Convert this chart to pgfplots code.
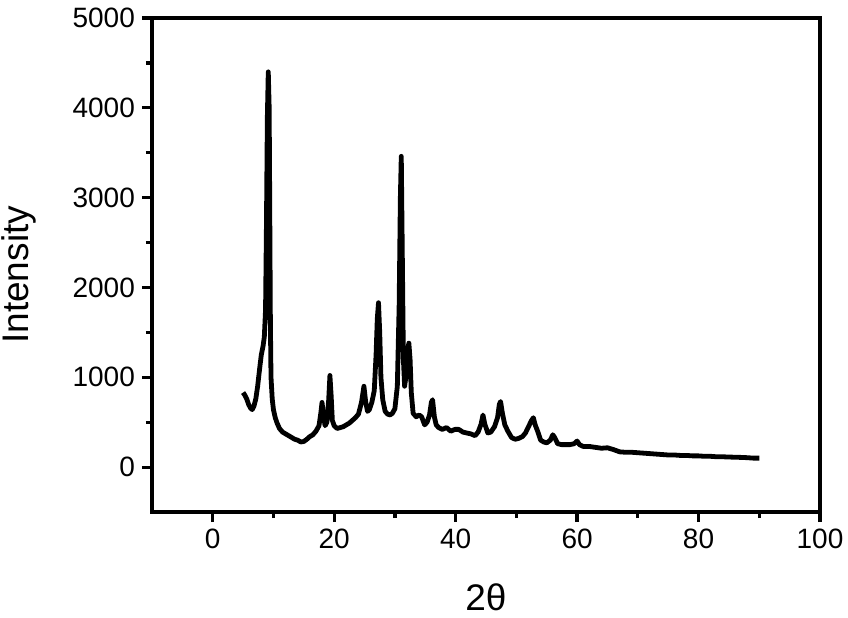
\documentclass[border=0pt]{standalone}
\usepackage{pgfplots}
\pgfplotsset{compat=1.18}
\usepackage{fontspec}
\setmainfont{Liberation Sans}
\begin{document}
\begin{tikzpicture}
\begin{axis}[
 scale only axis,
 width=334pt, height=247pt,
 xmin=-10, xmax=100, ymin=-500, ymax=5000,
 xtick={0,20,...,100}, ytick={0,1000,...,5000},
 minor x tick num=1, minor y tick num=1,
 tick align=outside,
 xtick pos=bottom, ytick pos=left,
 major tick length=5pt, minor tick length=3pt,
 axis line style={line width=1.6pt},
 every tick/.style={line width=1.6pt, black},
 ticklabel style={font=\fontsize{14}{16}\selectfont},
 /pgf/number format/assume math mode=true,
 /pgf/number format/1000 sep={},
 xlabel={2θ}, ylabel={Intensity},
 label style={font=\fontsize{18.5}{22}\selectfont},
 xlabel style={at={(axis description cs:0.5,-0.144)}, anchor=north, inner sep=0pt},
 ylabel style={at={(axis description cs:-0.172,0.48)}, anchor=south, inner sep=0pt},
]
\addplot[black, line width=2.4pt, line join=round, mark=none] coordinates {
(5.0,830) (5.3,800) (5.6,760) (5.9,700) (6.2,660) (6.5,640) (6.8,680) (7.1,760)
(7.4,900) (7.7,1080) (8.0,1250) (8.3,1350) (8.5,1450) (8.7,1750) (8.85,2700)
(9.0,3900) (9.15,4400) (9.3,4000) (9.4,2800) (9.5,1600) (9.6,1000) (9.8,760)
(10.0,640) (10.3,550) (10.6,490) (11.0,430) (11.5,390) (12.0,370) (12.5,350)
(13.0,330) (13.5,310) (14.0,300) (14.5,280) (15.0,285) (15.5,310) (16.0,340)
(16.5,360) (17.0,400) (17.5,460) (17.8,600) (18.0,720) (18.2,600) (18.5,460)
(18.8,500) (19.1,750) (19.3,1020) (19.5,800) (19.7,520) (20.0,460) (20.5,430)
(21.0,440) (21.5,450) (22.0,470) (22.5,490) (23.0,520) (23.5,550) (24.0,590)
(24.5,720) (24.9,900) (25.2,720) (25.5,620) (25.8,640) (26.2,720) (26.6,850)
(26.9,1250) (27.1,1650) (27.3,1830) (27.5,1500) (27.7,1000) (28.0,750) (28.4,620)
(28.8,590) (29.2,580) (29.6,600) (30.0,650) (30.4,900) (30.7,1800) (30.9,3000)
(31.05,3460) (31.2,2500) (31.4,1200) (31.6,900) (31.8,1000) (32.1,1300) (32.3,1380)
(32.5,1200) (32.7,830) (33.0,600) (33.5,560) (34.0,580) (34.4,560) (34.9,470)
(35.3,500) (35.7,580) (36.0,720) (36.2,750) (36.5,560) (36.8,470) (37.2,440)
(37.8,420) (38.5,440) (39.2,400) (39.9,420) (40.5,420) (41.2,390) (41.8,380)
(42.5,370) (43.2,350) (43.7,390) (44.2,480) (44.5,580) (44.8,480) (45.3,380)
(45.8,390) (46.4,450) (46.9,550) (47.2,700) (47.4,730) (47.7,600) (48.1,470)
(48.6,400) (49.2,330) (49.8,310) (50.4,320) (51.0,340) (51.5,380) (52.0,450)
(52.5,520) (52.8,550) (53.1,470) (53.5,400) (54.0,300) (54.5,280) (55.0,270)
(55.6,300) (56.0,360) (56.3,330) (56.8,260) (57.5,250) (58.2,250) (58.8,250)
(59.5,260) (60.0,290) (60.4,250) (61.0,230) (62.0,230) (63.0,220) (64.0,210)
(65.0,215) (66.0,195) (67.0,170) (68.0,165) (69.0,165) (70.0,160) (71.0,155)
(72.0,150) (73.0,145) (74.0,140) (75.0,135) (76.0,135) (77.0,130) (78.0,130)
(79.0,125) (80.0,125) (81.0,120) (82.0,120) (83.0,115) (84.0,115) (85.0,112)
(86.0,110) (87.0,108) (88.0,105) (89.0,100) (90.0,100)
};
\coordinate (bl) at (axis description cs:-0.2275,-0.2126);
\coordinate (tr) at (axis description cs:1.0419,1.0364);
\end{axis}
\pgfresetboundingbox
\path (bl) rectangle (tr);
\end{tikzpicture}
\end{document}
